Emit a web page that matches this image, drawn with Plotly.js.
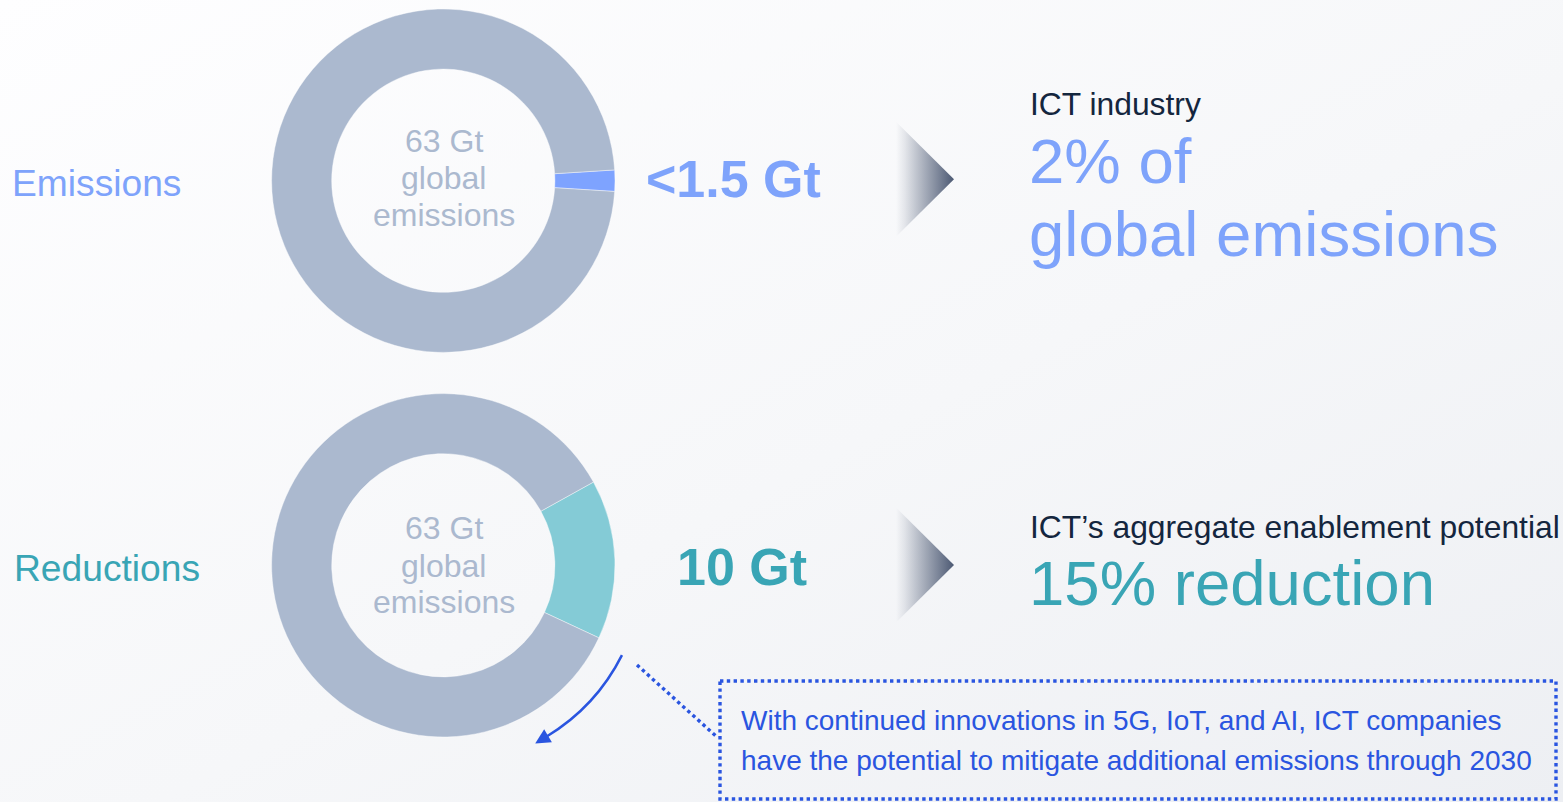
<!DOCTYPE html>
<html><head><meta charset="utf-8">
<script src="https://cdn.plot.ly/plotly-3.0.1.min.js"></script>
<style>
html,body{margin:0;padding:0;}
body{width:1563px;height:802px;overflow:hidden;background:linear-gradient(to bottom right,#fefeff 0%,#f6f7f9 55%,#edeff3 100%);}
#chart{width:1563px;height:802px;}
</style></head><body><div id="chart"></div>
<script>
// ---------- data ----------
const rowLabels = ['Emissions', 'Reductions'];
const sliceLabels = ['ICT', 'Rest of global emissions'];
const globalTotal = 63;                 // Gt
const ictSliceValues = [1.26, 9.45];    // Gt: ICT emissions (~2%), ICT enablement (~15%)
const bigValueLabels = ['<1.5 Gt', '10 Gt'];
const headlineLabels = ['ICT industry', 'ICT\u2019s aggregate enablement potential'];
const headlineValues = [['2% of', 'global emissions'], ['15% reduction']];
const centerLines = ['63 Gt', 'global', 'emissions'];
const noteLines = ['With continued innovations in 5G, IoT, and AI, ICT companies',
                   'have the potential to mitigate additional emissions through 2030'];

// ---------- styles ----------
const W = 1563, H = 802;
const FONT = 'Liberation Sans, Arial, Helvetica, sans-serif';
const restColor = '#abb9cf';
const accentColors = ['#7ea3ff', '#84cbd6'];
const textAccent = ['#7ea3fb', '#39a5b5'];
const noteBlue = '#2a55e0';

const donutCX = 443.3, donutR = 171.7;
const donutCY = [180.7, 565.3];
const startAngles = [null, 61];   // clockwise from 12 o'clock, for second donut

const traces = [];
donutCY.forEach((cy, i) => {
  const v = ictSliceValues[i];
  const frac = v / globalTotal;
  const rot = i === 0 ? 90 - 180 * frac : startAngles[i];
  traces.push({
    type: 'pie',
    labels: sliceLabels,
    values: [v, globalTotal - v],
    sort: false,
    direction: 'clockwise',
    rotation: rot,
    hole: 0.65,
    textinfo: 'none',
    hoverinfo: 'none',
    showlegend: false,
    marker: {colors: [accentColors[i], restColor], line: {width: 0.6, color: 'rgba(255,255,255,0.7)'}},
    domain: {
      x: [(donutCX - donutR) / W, (donutCX + donutR) / W],
      y: [1 - (cy + donutR) / H, 1 - (cy - donutR) / H]
    }
  });
});

// chevrons with horizontal gradient
[179.3, 565].forEach(cy => {
  traces.push({
    type: 'scatter', mode: 'none',
    x: [896, 954, 896, 896], y: [cy - 57.5, cy, cy + 57.5, cy - 57.5],
    fill: 'toself',
    fillgradient: {type: 'horizontal',
      colorscale: [[0, 'rgba(76,89,115,0)'], [0.15, 'rgba(76,89,115,0.12)'], [1, 'rgba(76,89,115,1)']]},
    hoverinfo: 'skip', showlegend: false, xaxis: 'x', yaxis: 'y'
  });
});

// ---------- annotations ----------
const ann = [];
function txt(t, x, y, size, color, xanchor, bold) {
  ann.push({text: bold ? '<b>' + t + '</b>' : t, x: x, y: y, xref: 'x', yref: 'y',
    xanchor: xanchor || 'left', yanchor: 'middle', showarrow: false,
    font: {family: FONT, size: size, color: color}});
}
txt(rowLabels[0], 9.5, 182.5, 37.2, textAccent[0]);
txt(rowLabels[1], 11.5, 568, 37.2, textAccent[1]);

const centerOffsets = [[-39.7, -3.2, 34.3], [-37, 0.4, 36.4]];
donutCY.forEach((cy, i) => {
  centerLines.forEach((l, j) => txt(l, donutCX + 0.5, cy + centerOffsets[i][j], 32, restColor, 'center'));
});

txt(bigValueLabels[0], 644, 178.5, 52, textAccent[0], 'left', true);
txt(bigValueLabels[1], 675, 567, 52, textAccent[1], 'left', true);

txt(headlineLabels[0], 1028, 104, 31.8, '#14263e');
txt(headlineValues[0][0], 1026.5, 161, 63.5, textAccent[0]);
txt(headlineValues[0][1], 1026.5, 234, 63.5, textAccent[0]);
txt(headlineLabels[1], 1028, 527, 31.8, '#14263e');
txt(headlineValues[1][0], 1026.5, 583, 63.5, textAccent[1]);

txt(noteLines[0], 738.5, 720.5, 28, noteBlue);
txt(noteLines[1], 738.5, 760.5, 28, noteBlue);

// ---------- shapes ----------
const shapes = [];
// dotted note box and leader
shapes.push({type: 'rect', xref: 'x', yref: 'y', x0: 720, y0: 681, x1: 1556, y1: 799,
  line: {color: noteBlue, width: 3.4, dash: 'dot'}, fillcolor: 'rgba(0,0,0,0)'});
shapes.push({type: 'line', xref: 'x', yref: 'y', x0: 637, y0: 665, x1: 717, y1: 737,
  line: {color: noteBlue, width: 3.4, dash: 'dot'}});

// curved arrow: arc concentric with lower donut
(function () {
  const cx = donutCX, cy = donutCY[1], r = 200;
  const a0 = 26.7 * Math.PI / 180, a1 = 59 * Math.PI / 180;
  const k = 4 / 3 * Math.tan((a1 - a0) / 4) * r;
  const P0 = [cx + r * Math.cos(a0), cy + r * Math.sin(a0)];
  const P3 = [cx + r * Math.cos(a1), cy + r * Math.sin(a1)];
  const t0 = [-Math.sin(a0), Math.cos(a0)], t1 = [-Math.sin(a1), Math.cos(a1)];
  const P1 = [P0[0] + k * t0[0], P0[1] + k * t0[1]];
  const P2 = [P3[0] - k * t1[0], P3[1] - k * t1[1]];
  shapes.push({type: 'path', xref: 'x', yref: 'y',
    path: `M${P0[0]},${P0[1]} C${P1[0]},${P1[1]} ${P2[0]},${P2[1]} ${P3[0]},${P3[1]}`,
    line: {color: noteBlue, width: 2.5}});
  // arrowhead
  const L = 15, hw = 7.5;
  const tip = [P3[0] + t1[0] * (L - 2), P3[1] + t1[1] * (L - 2)];
  const base = [tip[0] - t1[0] * L, tip[1] - t1[1] * L];
  const n = [-t1[1], t1[0]];
  shapes.push({type: 'path', xref: 'x', yref: 'y',
    path: `M${tip[0]},${tip[1]} L${base[0] + n[0] * hw},${base[1] + n[1] * hw} L${base[0] - n[0] * hw},${base[1] - n[1] * hw} Z`,
    fillcolor: noteBlue, line: {width: 0}});
})();

const layout = {
  width: W, height: H,
  margin: {l: 0, r: 0, t: 0, b: 0},
  paper_bgcolor: 'rgba(0,0,0,0)', plot_bgcolor: 'rgba(0,0,0,0)',
  xaxis: {range: [0, W], visible: false, fixedrange: true, domain: [0, 1]},
  yaxis: {range: [H, 0], visible: false, fixedrange: true, domain: [0, 1]},
  showlegend: false,
  annotations: ann,
  shapes: shapes,
  font: {family: FONT}
};

Plotly.newPlot('chart', traces, layout, {staticPlot: true, displayModeBar: false});
</script></body></html>
